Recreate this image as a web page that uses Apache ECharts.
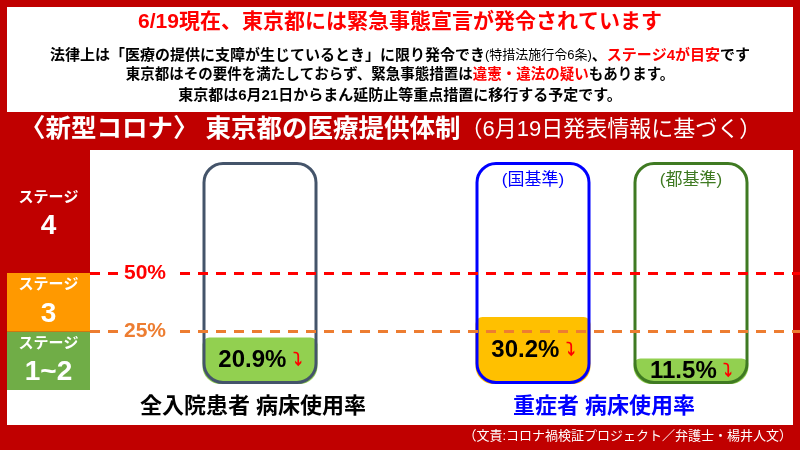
<!DOCTYPE html>
<html><head><meta charset="utf-8">
<script src="https://cdn.jsdelivr.net/npm/echarts@6/dist/echarts.min.js"></script>
<style>html,body{margin:0;padding:0;background:#c00000;}#c{width:800px;height:450px;}</style>
</head><body><div id="c"></div>
<script>
// ---- data ----
const categories = ['全入院患者', '重症者（国基準）', '重症者（都基準）'];
const usageRates = [20.9, 30.2, 11.5];
const capacity = [100, 100, 100];
const headers = ['', '(国基準)', '(都基準)'];
const thresholds = [50, 25];
const thresholdLabels = ['50%', '25%'];
const stageBounds = [0, 25, 50, 100];
const stageNames = ['1~2', '3', '4'];
const groupLabels = ['全入院患者 病床使用率', '重症者 病床使用率'];

// ---- layout / style ----
const FONT = "'Liberation Sans', 'Noto Sans CJK JP', sans-serif";
const RED = '#c00000';
const containerLeft = [201, 474, 632];
const containerStroke = ['#44546a', '#0000ff', '#3f7a22'];
const fillColors = ['#92d050', '#ffc000', '#92d050'];
const stageColors = ['#70ad47', '#ff9900', RED];
const thresholdColors = ['#ff0000', '#ed7d31'];

const grids = [
  {left: 90, right: 0, top: 156, bottom: 60},     // threshold lines
  {left: 7, width: 83, top: 156, bottom: 60}       // stage column
];
const xAxes = [
  {gridIndex: 0, type: 'value', min: 0, max: 1, show: false},
  {gridIndex: 1, type: 'category', data: ['stage'], show: false}
];
const yAxes = [
  {gridIndex: 0, type: 'value', min: 0, max: 100, show: false},
  {gridIndex: 1, type: 'value', min: 0, max: 100, show: false}
];
const series = [];

series.push({
  type: 'line', xAxisIndex: 0, yAxisIndex: 0, data: [], silent: true,
  markLine: {
    symbol: 'none', silent: true, animation: false,
    data: thresholds.map((t, i) => ({
      yAxis: t,
      lineStyle: {color: thresholdColors[i], width: 3, type: [10, 8]},
      label: {
        show: true, formatter: thresholdLabels[i], position: 'insideStart',
        distance: [28, 0], backgroundColor: '#fff', padding: [0, 6],
        color: thresholdColors[i], fontSize: 21, fontWeight: 'bold', fontFamily: FONT
      }
    }))
  }
});

stageNames.forEach((name, i) => {
  series.push({
    type: 'bar', xAxisIndex: 1, yAxisIndex: 1, stack: 'stage', barWidth: '100%',
    data: [stageBounds[i + 1] - stageBounds[i]], silent: true,
    itemStyle: {color: stageColors[i]},
    label: {
      show: true, position: 'inside', formatter: '{s|ステージ}\n{n|' + name + '}',
      rich: {
        s: {color: '#fff', fontSize: 15, fontWeight: 'bold', fontFamily: FONT, lineHeight: 24, align: 'center'},
        n: {color: '#fff', fontSize: 28, fontWeight: 'bold', fontFamily: FONT, lineHeight: 34, align: 'center'}
      }
    }
  });
});

categories.forEach((cat, i) => {
  const g = grids.length;
  grids.push({left: containerLeft[i], width: 118, top: 162, bottom: 66});
  xAxes.push({gridIndex: g, type: 'category', data: [cat], show: false});
  yAxes.push({gridIndex: g, type: 'value', min: 0, max: 100, show: false});
  series.push({
    type: 'bar', xAxisIndex: g, yAxisIndex: g, data: [usageRates[i]], barWidth: 115, barGap: '-100%',
    silent: true, z: 2,
    itemStyle: {color: fillColors[i], borderRadius: [7, 7, 18, 18]},
    label: {
      show: true, position: 'inside', formatter: '{v|' + usageRates[i].toFixed(1) + '%}{a| ⤵}',
      rich: {
        v: {color: '#000', fontSize: 24, fontWeight: 'bold', fontFamily: FONT},
        a: {color: '#ff0000', fontSize: 18, fontWeight: 'bold', fontFamily: "'DejaVu Sans', sans-serif"}
      }
    }
  });
  series.push({
    type: 'bar', xAxisIndex: g, yAxisIndex: g, data: [capacity[i]], barWidth: 115, barGap: '-100%',
    silent: true, z: 3,
    itemStyle: {color: 'rgba(0,0,0,0)', borderColor: containerStroke[i], borderWidth: 3, borderRadius: 19},
    label: {
      show: headers[i] !== '', position: 'insideTop', distance: 10, formatter: headers[i],
      color: containerStroke[i], fontSize: 17, fontWeight: 'normal', fontFamily: FONT
    }
  });
});

const titles = [
  {text: '6/19現在、東京都には緊急事態宣言が発令されています', left: 'center', top: 12,
   textStyle: {color: '#ff0000', fontSize: 21, fontWeight: 'bold', fontFamily: FONT}},
  {text: '{b|法律上は「医療の提供に支障が生じているとき」に限り発令でき}{n|(特措法施行令6条)}{b|、}{r|ステージ4が目安}{b|です}',
   left: 'center', top: 48,
   textStyle: {rich: {
     b: {color: '#000', fontSize: 15, fontWeight: 'bold', fontFamily: FONT},
     n: {color: '#000', fontSize: 13, fontWeight: 'normal', fontFamily: FONT},
     r: {color: '#ff0000', fontSize: 15, fontWeight: 'bold', fontFamily: FONT}}}},
  {text: '{b|東京都はその要件を満たしておらず、緊急事態措置は}{r|違憲・違法の疑い}{b|もあります。}',
   left: 'center', top: 68,
   textStyle: {rich: {
     b: {color: '#000', fontSize: 14.5, fontWeight: 'bold', fontFamily: FONT},
     r: {color: '#ff0000', fontSize: 14.5, fontWeight: 'bold', fontFamily: FONT}}}},
  {text: '東京都は6月21日からまん延防止等重点措置に移行する予定です。', left: 'center', top: 88,
   textStyle: {color: '#000', fontSize: 15, fontWeight: 'bold', fontFamily: FONT}},
  {text: '{b|〈新型コロナ〉 東京都の医療提供体制}{n|（6月19日発表情報に基づく）}', left: 20, top: 117,
   textStyle: {rich: {
     b: {color: '#fff', fontSize: 25.5, fontWeight: 'bold', fontFamily: FONT},
     n: {color: '#fff', fontSize: 22, fontWeight: 'normal', fontFamily: FONT}}}},
  {text: groupLabels[0], left: 253, textAlign: 'center', top: 396,
   textStyle: {color: '#000', fontSize: 22, fontWeight: 'bold', fontFamily: FONT}},
  {text: groupLabels[1], left: 604, textAlign: 'center', top: 396,
   textStyle: {color: '#0000ff', fontSize: 22, fontWeight: 'bold', fontFamily: FONT}},
  {text: '（文責:コロナ禍検証プロジェクト／弁護士・楊井人文）', right: 8, top: 430,
   textStyle: {color: '#fff', fontSize: 13, fontWeight: 'normal', fontFamily: FONT}}
].map(t => Object.assign({padding: 0}, t));

const chart = echarts.init(document.getElementById('c'), null, {renderer: 'canvas'});
chart.setOption({
  backgroundColor: RED,
  animation: false,
  title: titles,
  graphic: [
    {type: 'rect', z: -10, shape: {x: 7, y: 7, width: 786, height: 105}, style: {fill: '#fff'}},
    {type: 'rect', z: -10, shape: {x: 90, y: 150, width: 703, height: 275}, style: {fill: '#fff'}},
    {type: 'rect', z: -10, shape: {x: 7, y: 388, width: 90, height: 37}, style: {fill: '#fff'}}
  ],
  grid: grids,
  xAxis: xAxes,
  yAxis: yAxes,
  series: series
});
</script></body></html>
